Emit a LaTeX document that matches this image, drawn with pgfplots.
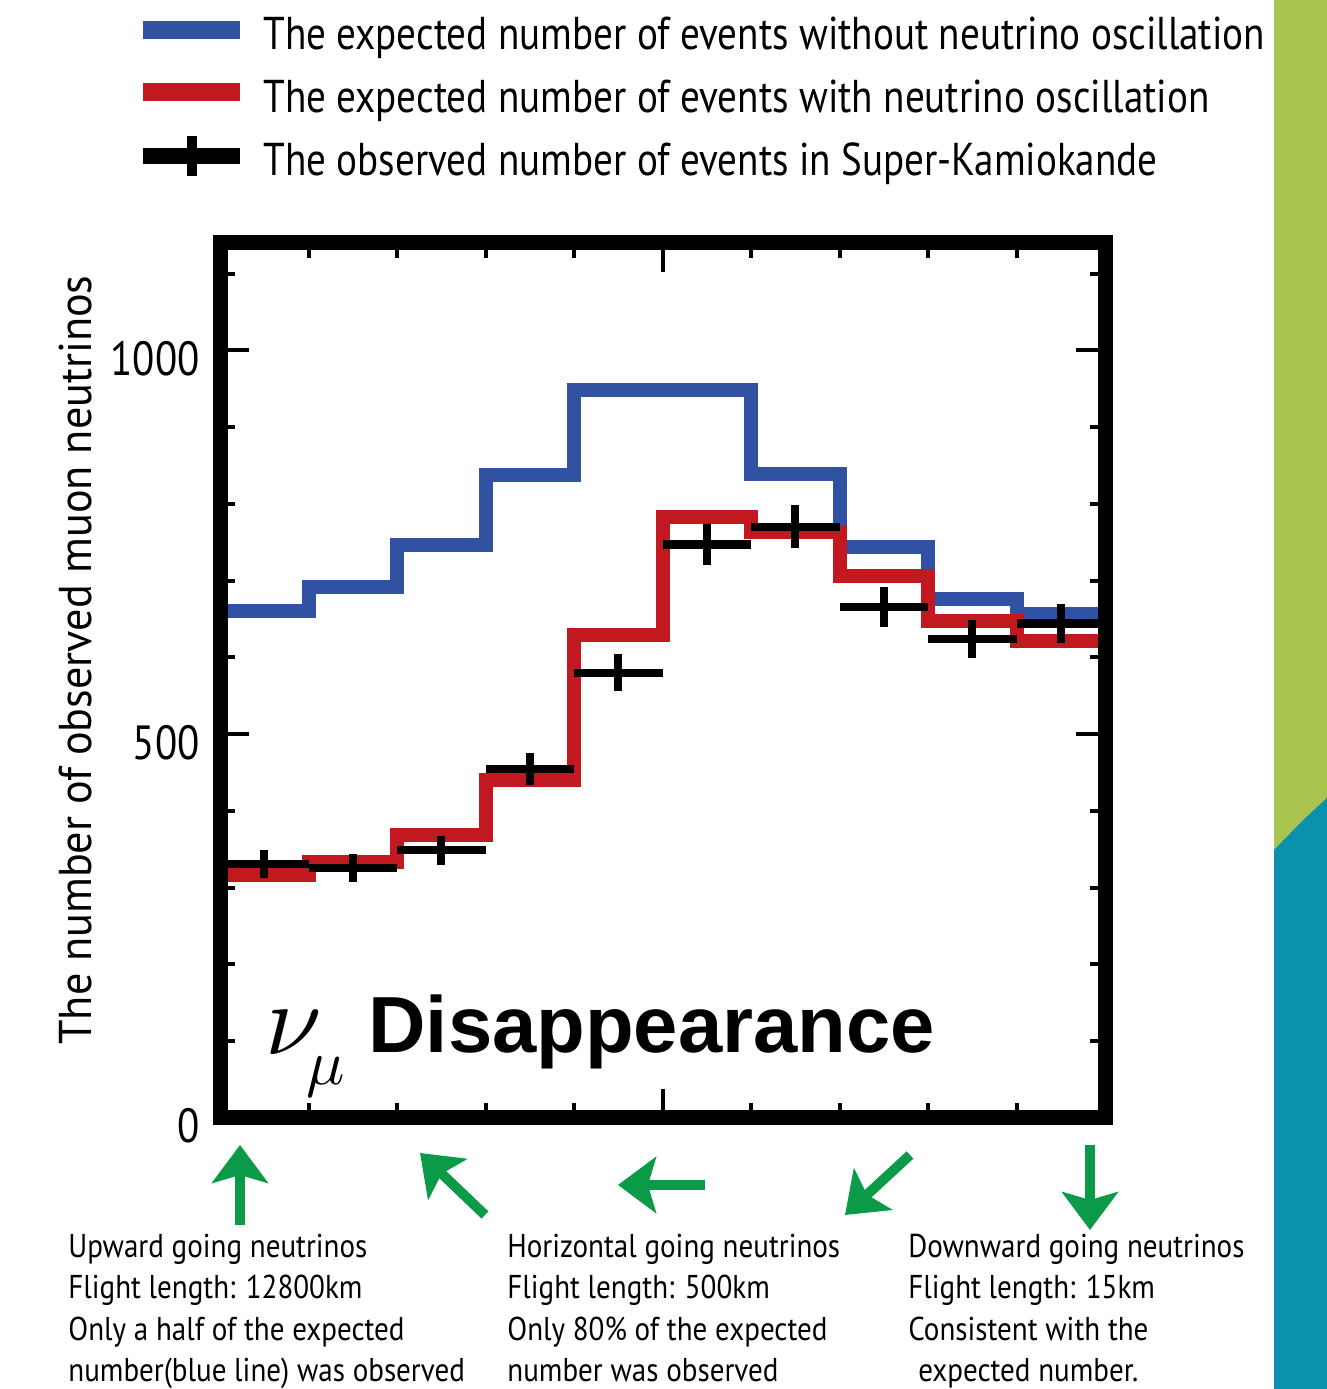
\documentclass[border=0pt]{standalone}
\usepackage{fontspec}
\setmainfont{PT Sans}[FakeStretch=0.85]
\newfontfamily\notef{PT Sans}[FakeStretch=0.88]
\newfontfamily\labelf{PT Sans}[FakeStretch=0.96]
\newfontfamily\arialf{Liberation Sans}
\usepackage{graphicx}
\usepackage{pgfplots}
\pgfplotsset{compat=1.18}
\usetikzlibrary{arrows.meta}

\definecolor{skblue}{HTML}{3152A2}
\definecolor{skred}{HTML}{C1191F}
\definecolor{arrowgreen}{HTML}{0A9A48}
\definecolor{stripgreen}{HTML}{A9C550}
\definecolor{stripteal}{HTML}{0B91AD}

% expected without oscillation (bin left edges, last point closes the step)
\pgfplotstableread{
x y
-1.0 661
-0.8 692
-0.6 747
-0.4 838
-0.2 948
0.0 948
0.2 839
0.4 744
0.6 676
0.8 656
1.0 656
}\noosc
% expected with oscillation
\pgfplotstableread{
x y
-1.0 316
-0.8 334
-0.6 369
-0.4 440
-0.2 629
0.0 783
0.2 764
0.4 706
0.6 648
0.8 622
1.0 622
}\withosc
% observed (bin centres)
\pgfplotstableread{
x y ex ey
-0.9 331 0.1 18
-0.7 326 0.1 18
-0.5 349 0.1 19
-0.3 455 0.1 21
-0.1 580 0.1 24
0.1 747 0.1 27
0.3 770 0.1 28
0.5 666 0.1 26
0.7 624 0.1 25
0.9 644 0.1 25
}\observed

\begin{document}
\begin{tikzpicture}[x=1bp,y=1bp]
\path[use as bounding box] (0,0) rectangle (663.5,694.5);

% side strip
\fill[stripgreen] (637,0) rectangle (663.5,694.5);
\fill[stripteal] (637,0) -- (663.5,0) -- (663.5,295.5) .. controls (652,285) .. (637,269.5) -- cycle;

\begin{axis}[
  at={(110bp,135.5bp)}, anchor=south west,
  scale only axis, width=442.5bp, height=437.5bp,
  xmin=-1, xmax=1, ymin=0, ymax=1140,
  xtick={0}, xticklabels={},
  minor xtick={-0.8,-0.6,-0.4,-0.2,0.2,0.4,0.6,0.8},
  ytick={0,500,1000}, yticklabels={0,500,1000},
  minor ytick={100,200,300,400,600,700,800,900,1100},
  tick align=inside,
  major tick length=14.5bp, minor tick length=7.5bp,
  every tick/.style={black, line width=2bp},
  axis line style={line width=7.5bp},
  axis on top,
  yticklabel style={font=\fontsize{24bp}{24bp}\selectfont, inner sep=0pt, xshift=-10bp, yshift=-4bp},
  legend style={at={(axis description cs:-0.104,1.276)}, anchor=north west,
    draw=none, fill=none, row sep=-2.75bp,
    font=\fontsize{23bp}{27bp}\selectfont,
    nodes={inner sep=0pt, text height=22bp, text depth=12bp},
    /tikz/every odd column/.append style={column sep=7bp}},
  legend cell align=left,
]
\addplot[const plot, skblue, line width=7bp,
  legend image code/.code={\draw[skblue, line width=9bp] (0,5bp) -- (48.5bp,5bp);}]
  table[x=x, y=y] {\noosc};
\addlegendentry{The expected number of events without neutrino oscillation}
\addplot[const plot, skred, line width=7bp,
  legend image code/.code={\draw[skred, line width=9bp] (0,5bp) -- (48.5bp,5bp);}]
  table[x=x, y=y] {\withosc};
\addlegendentry{The expected number of events with neutrino oscillation}
\addplot[draw=none, mark=none,
  error bars/.cd, x dir=both, x explicit, y dir=both, y explicit,
  error mark=none, error bar style={draw=black, line width=4.2bp},
  /pgfplots/legend image code/.code={\draw[black, line width=8bp] (0,5bp) -- (48.5bp,5bp);
    \draw[black, line width=5bp] (24.25bp,-5bp) -- (24.25bp,15bp);}]
  table[x=x, y=y, x error=ex, y error=ey] {\observed};
\addlegendentry{The observed number of events in Super-Kamiokande}
\end{axis}

% y label
\node[rotate=90, font=\labelf\fontsize{23bp}{23bp}\selectfont] at (37.5,364.5) {The number of observed muon neutrinos};

% nu_mu Disappearance
\node[anchor=base west, inner sep=0pt, font=\fontsize{10bp}{12bp}\selectfont] at (132.5,167) {\scalebox{5.1}{$\nu$}};
\node[anchor=base west, inner sep=0pt, font=\fontsize{10bp}{12bp}\selectfont] at (153,152) {\scalebox{3.2}{$\mu$}};
\node[anchor=base west, inner sep=0pt, font=\arialf\bfseries\fontsize{39.8bp}{40bp}\selectfont] at (184,168) {Disappearance};

% direction arrows
\begin{scope}[arrowgreen, line width=5bp, -{Stealth[length=19bp, width=28bp, inset=4bp]}]
\draw (120,82) -- (120,122);
\draw (242.5,87) -- (210,118);
\draw (352.5,102) -- (309,102);
\draw (455,117) -- (422.5,87);
\draw (545,122) -- (545,79.5);
\end{scope}

% explanations
\begin{scope}[every node/.style={anchor=base west, inner sep=0pt, font=\notef\fontsize{16.5bp}{16.5bp}\selectfont}]
\node at (34,65.5) {Upward going neutrinos};
\node at (34,45) {Flight length: 12800km};
\node at (34,24) {Only a half of the expected};
\node at (34,3.5) {number(blue line) was observed};
\node at (253.5,65.5) {Horizontal going neutrinos};
\node at (253.5,45) {Flight length: 500km};
\node at (253.5,24) {Only 80\% of the expected};
\node at (253.5,3.5) {number was observed};
\node at (454,65.5) {Downward going neutrinos};
\node at (454,45) {Flight length: 15km};
\node at (454,24) {Consistent with the};
\node at (459,3.5) {expected number.};
\end{scope}
\end{tikzpicture}
\end{document}
